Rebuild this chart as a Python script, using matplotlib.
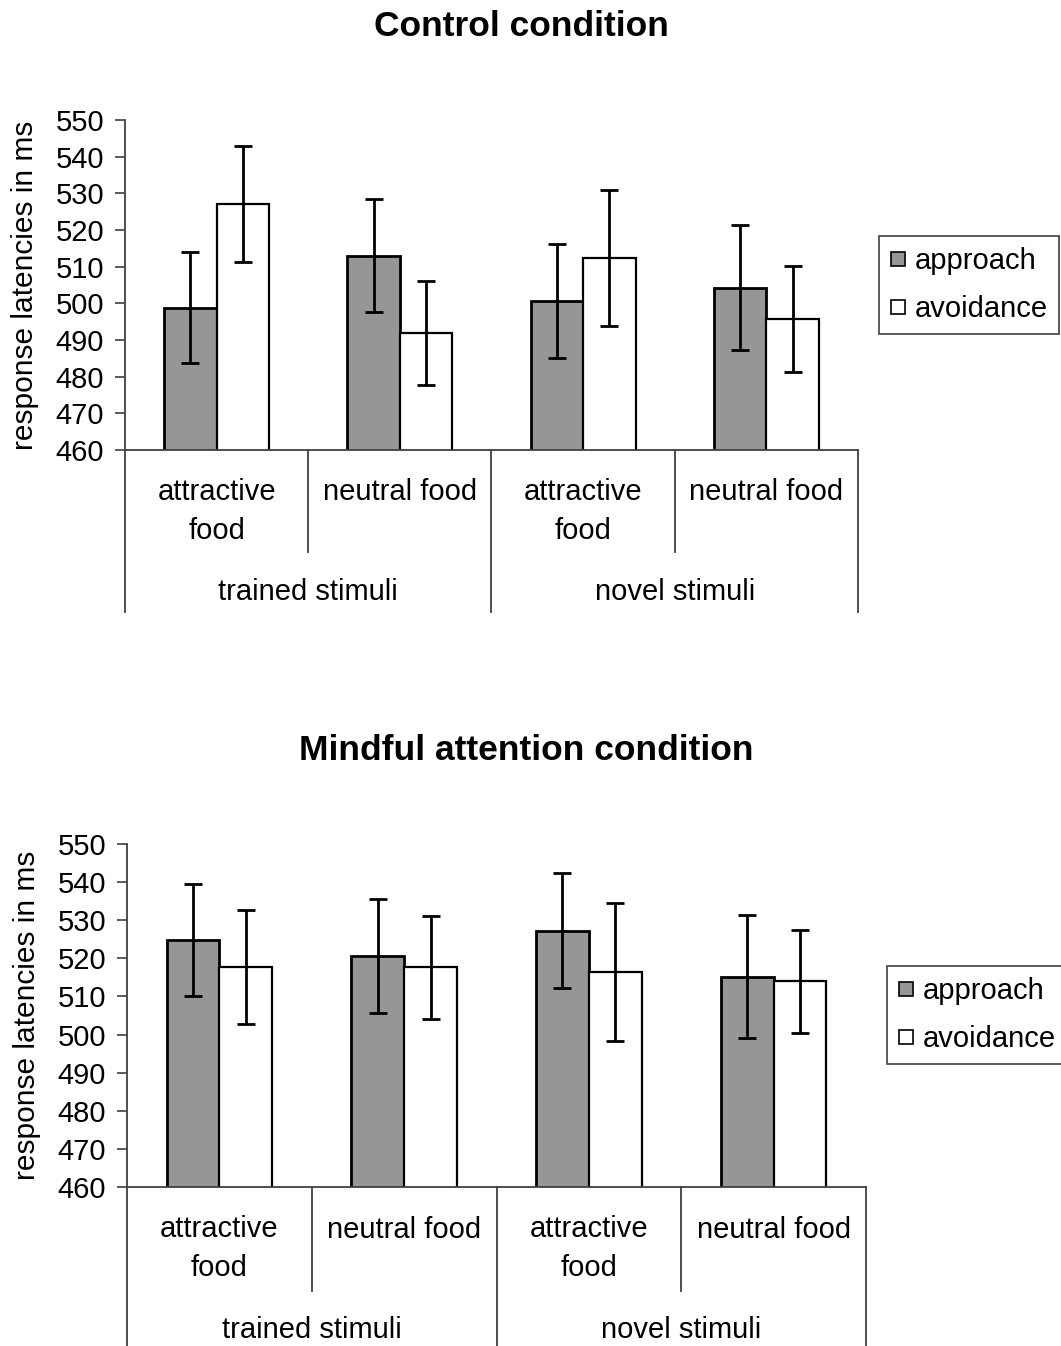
import matplotlib
matplotlib.use("Agg")
import matplotlib.pyplot as plt
import numpy as np
from matplotlib.lines import Line2D

plt.rcParams['font.family'] = ['Liberation Sans', 'DejaVu Sans']

# ---- data ----
inner_labels = ["attractive\nfood", "neutral food", "attractive\nfood", "neutral food"]
outer_labels = ["trained stimuli", "novel stimuli"]
series_names = ["approach", "avoidance"]

control_approach = [498.8, 513.0, 500.6, 504.3]
control_approach_err = [15.2, 15.4, 15.5, 17.0]
control_avoid = [527.2, 492.0, 512.4, 495.7]
control_avoid_err = [15.8, 14.2, 18.6, 14.5]

mindful_approach = [524.9, 520.6, 527.3, 515.2]
mindful_approach_err = [14.7, 15.0, 15.0, 16.2]
mindful_avoid = [517.7, 517.7, 516.4, 514.0]
mindful_avoid_err = [15.0, 13.5, 18.0, 13.5]

yticks = [460, 470, 480, 490, 500, 510, 520, 530, 540, 550]
titles = ["Control condition", "Mindful attention condition"]
ylabel = "response latencies in ms"

W, H = 1061, 1346
fig = plt.figure(figsize=(W / 100, H / 100), dpi=100)

axis_col = '#404040'
gray = '#969696'
FS = 21


def px_rect(l, r, t, b):
    return [l / W, 1 - b / H, (r - l) / W, (b - t) / H]


def draw_panel(rect, app, app_err, avo, avo_err, title, title_pos, leg_center,
               inner_y, inner_y1, outer_y, sep_in, sep_out):
    ax = fig.add_axes(rect)
    n = len(app)
    x = np.arange(n) + 0.5
    w = 0.286
    ax.bar(x - w / 2, app, width=w, color=gray, edgecolor='black', linewidth=2.0, zorder=2)
    ax.bar(x + w / 2, avo, width=w, color='white', edgecolor='black', linewidth=1.6, zorder=2)
    ax.errorbar(x - w / 2, app, yerr=app_err, fmt='none', ecolor='black',
                elinewidth=2, capsize=6.5, capthick=2, zorder=3)
    ax.errorbar(x + w / 2, avo, yerr=avo_err, fmt='none', ecolor='black',
                elinewidth=2, capsize=6.5, capthick=2, zorder=3)
    ax.set_xlim(0, n)
    ax.set_ylim(460, 550)
    ax.set_yticks(yticks)
    ax.set_yticklabels([str(v) for v in yticks], fontsize=FS)
    ax.tick_params(axis='y', direction='out', length=7, width=1.2, color=axis_col, pad=8)
    ax.set_xticks([])
    for s in ['top', 'right']:
        ax.spines[s].set_visible(False)
    for s in ['left', 'bottom']:
        ax.spines[s].set_color(axis_col)
        ax.spines[s].set_linewidth(1.3)
    ax.set_ylabel(ylabel, fontsize=FS + 0.5, labelpad=12)

    tr = ax.get_xaxis_transform()
    # separators
    for i in range(n + 1):
        depth = sep_out if i % 2 == 0 else sep_in
        ax.plot([i, i], [0, depth], transform=tr, color=axis_col, lw=1.3, clip_on=False)
    # inner labels
    for i, lab in enumerate(inner_labels):
        yy = inner_y if "\n" in lab else inner_y1
        ax.text(i + 0.5, yy, lab, transform=tr, ha='center', va='center',
                fontsize=FS, linespacing=1.5)
    for j, lab in enumerate(outer_labels):
        ax.text(2 * j + 1, outer_y, lab, transform=tr, ha='center', va='center', fontsize=FS)

    fig.text(title_pos[0] / W, 1 - title_pos[1] / H, title, ha='center', va='center',
             fontsize=25.5, fontweight='bold')

    handles = [Line2D([], [], marker='s', linestyle='none', markersize=10,
                      markerfacecolor=gray, markeredgecolor='black', markeredgewidth=1.2),
               Line2D([], [], marker='s', linestyle='none', markersize=10,
                      markerfacecolor='white', markeredgecolor='black', markeredgewidth=1.2)]
    leg = fig.legend(handles, series_names, loc='center',
                     bbox_to_anchor=(leg_center[0] / W, 1 - leg_center[1] / H),
                     fontsize=FS, frameon=True, fancybox=False, framealpha=1,
                     handlelength=0.55, handletextpad=0.3,
                     labelspacing=0.68, borderpad=0.38, borderaxespad=0)
    leg.get_frame().set_edgecolor(axis_col)
    leg.get_frame().set_linewidth(1.2)
    return ax


draw_panel(px_rect(125, 858, 120, 450), control_approach, control_approach_err,
           control_avoid, control_avoid_err, titles[0], (521, 27), (969, 285),
           -0.185, -0.127, -0.43, -0.309, -0.491)
draw_panel(px_rect(127, 866, 844, 1187), mindful_approach, mindful_approach_err,
           mindful_avoid, mindful_avoid_err, titles[1], (526, 751), (977, 1015),
           -0.18, -0.124, -0.418, -0.302, -0.47)

fig.savefig("out.png", dpi=100)
